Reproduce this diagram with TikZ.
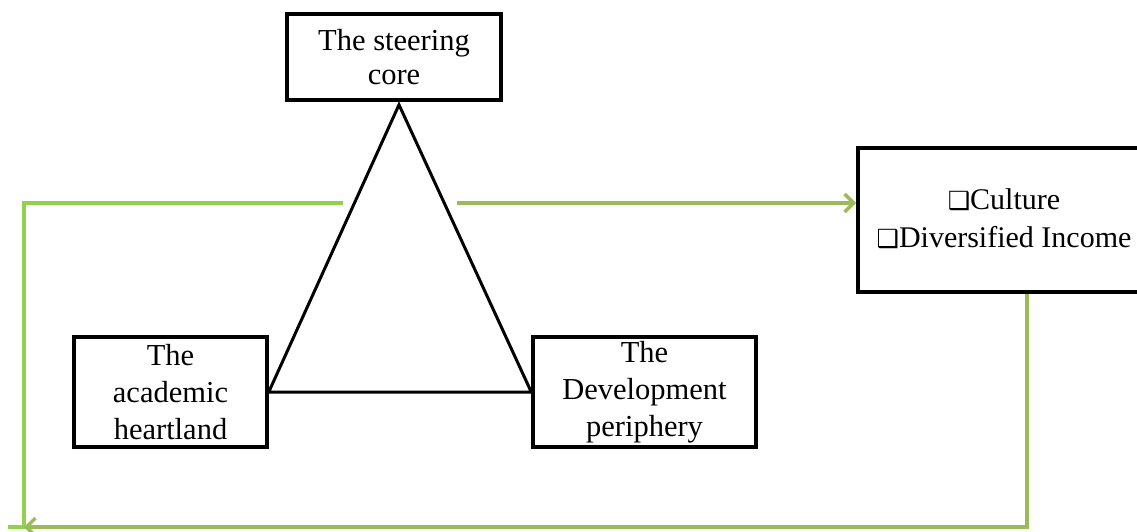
\documentclass[tikz,border=0pt]{standalone}
\usepackage{fontspec}
\setmainfont{Liberation Serif}
\newfontfamily\symfont{DejaVu Sans}
\usetikzlibrary{arrows.meta,calc}
\definecolor{greenA}{HTML}{92D050}
\definecolor{greenB}{HTML}{9BBB59}
\begin{document}
\begin{tikzpicture}[x=1pt,y=-1pt,
  box/.style={draw=black,line width=3.5pt,fill=white,align=center,inner sep=0pt,
    font=\fontsize{30.5}{37}\selectfont},
  tri/.style={draw=black,line width=3pt},
  gline/.style={draw=greenA,line width=3.5pt},
  garrow/.style={draw=greenB,line width=3.5pt,-{Straight Barb[length=9pt,width=18pt,line width=3.5pt]}},
  bx/.style={\symfont\fontsize{22}{34}\selectfont}
]
\useasboundingbox (0,0) rectangle (1137,531);
\fill[white] (0,0) rectangle (1137,531);
\node[box,minimum width=214pt,minimum height=86pt,font=\fontsize{30.5}{34}\selectfont] (core) at (394,57) {The steering\\core};
\node[box,minimum width=193pt,minimum height=110pt] (heart) at (170.5,392) {The\\academic\\heartland};
\node[box,minimum width=223pt,minimum height=110pt] (dev) at (644.5,392) {The\\Development\\periphery};
\node[box,minimum width=292pt,minimum height=144pt,anchor=west] (res) at (856,220) {};
\node[align=center,inner sep=0pt,font=\fontsize{30}{38}\selectfont] (restext) at (1004,219)
  {{\symfont\fontsize{25}{38}\selectfont\char"2751}Culture\\{\symfont\fontsize{25}{38}\selectfont\char"2751}Diversified Income};
% triangle
\coordinate (apex) at ($(core.south)+(5,3)$);
\draw[tri] (apex) -- (heart.east) -- (dev.west) -- cycle;
% green connectors
\coordinate (gl) at (343,203);
\coordinate (gr) at (457,203);
\coordinate (lc) at (24,203);
\coordinate (bl) at (24,527);
\coordinate (bend) at (8,527);
\coordinate (rb) at (1027,527);
\draw[gline] (gl) -- (lc) -- (bl) -- (bend);
\draw[garrow] (gr) -- (gr -| res.west);
\draw[garrow] (res.south -| rb) -- (rb) -- (bl);
\end{tikzpicture}
\end{document}
